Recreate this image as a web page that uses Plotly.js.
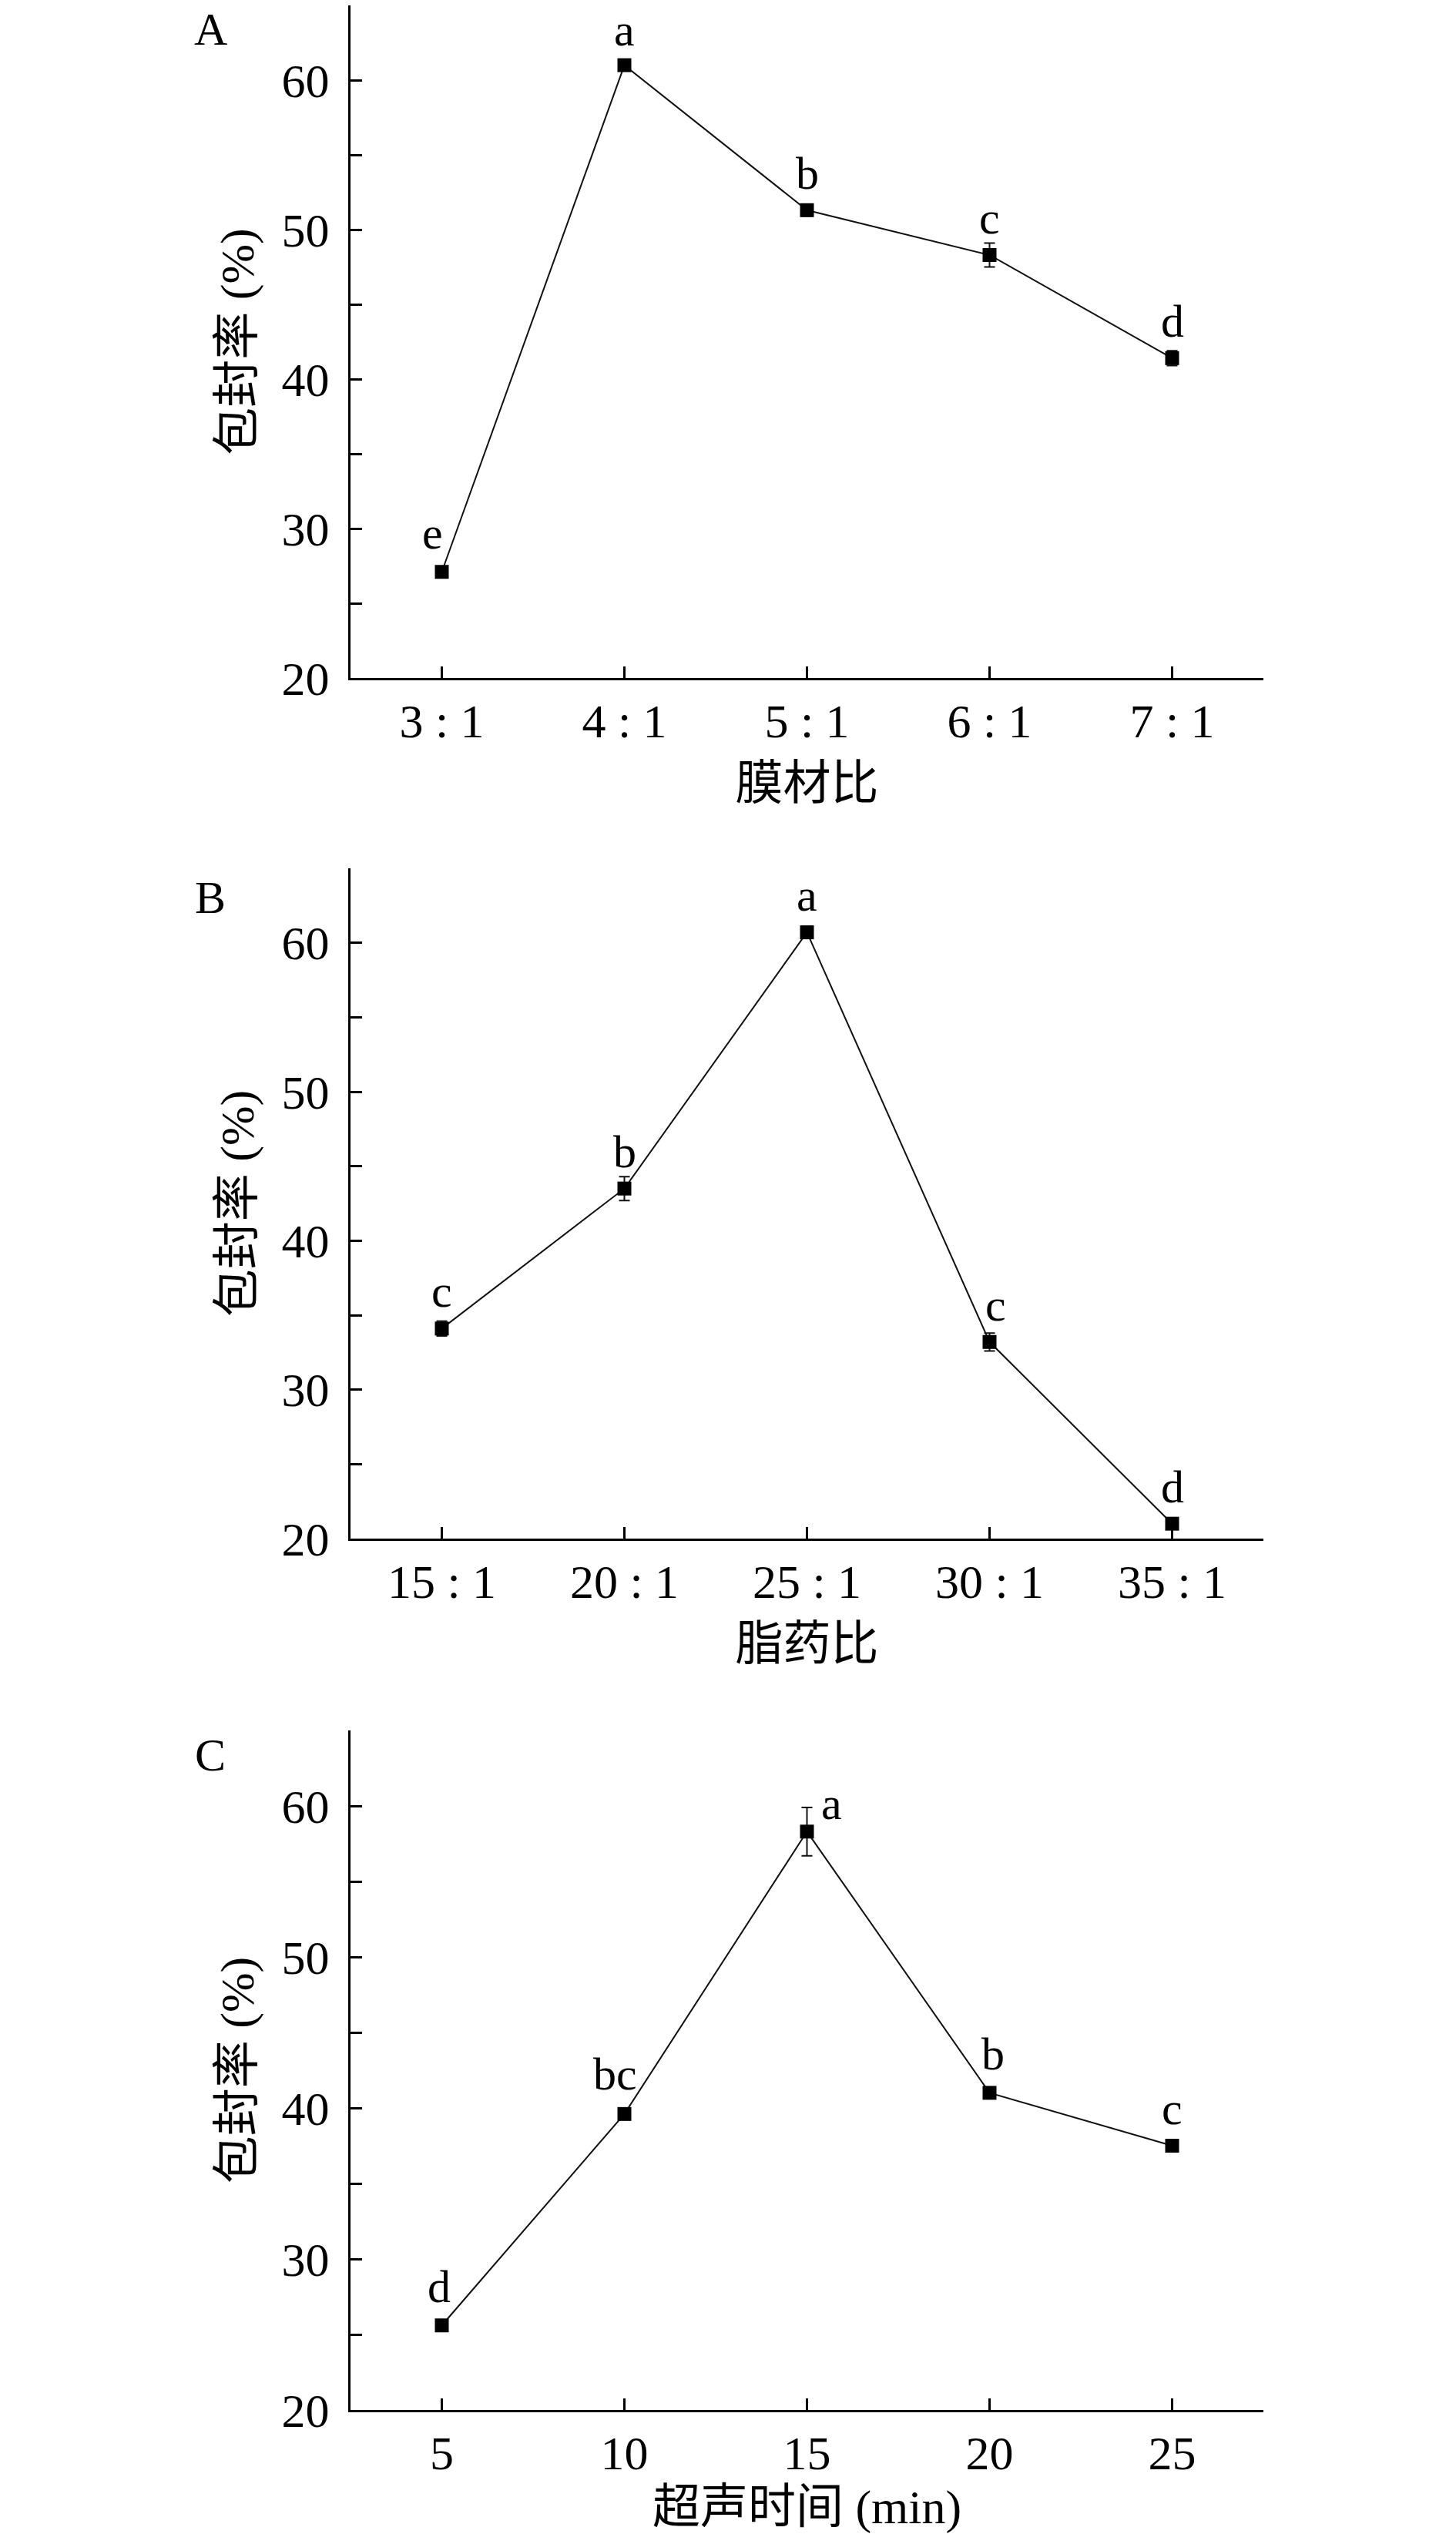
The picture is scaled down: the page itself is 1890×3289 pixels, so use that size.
<!DOCTYPE html>
<html>
<head>
<meta charset="utf-8">
<script src="https://cdn.plot.ly/plotly-3.0.1.min.js"></script>
<style>html,body{margin:0;padding:0;background:#fff;}#chart{width:1890px;height:3289px;}</style>
</head>
<body>
<div id="chart"></div>
<script>
// ---- data ----
const catsA = ["3 : 1", "4 : 1", "5 : 1", "6 : 1", "7 : 1"];
const valsA = [27.1, 61.0, 51.3, 48.3, 41.4];
const errA  = [0.3, 0.3, 0.4, 0.8, 0.5];
const lettersA = ["e", "a", "b", "c", "d"];

const catsB = ["15 : 1", "20 : 1", "25 : 1", "30 : 1", "35 : 1"];
const valsB = [34.1, 43.5, 60.7, 33.2, 21.0];
const errB  = [0.5, 0.8, 0.4, 0.6, 0.3];
const lettersB = ["c", "b", "a", "c", "d"];

const timeC = [5, 10, 15, 20, 25];
const valsC = [25.6, 39.6, 58.3, 41.0, 37.5];
const errC  = [0.3, 0.3, 1.6, 0.3, 0.3];
const lettersC = ["d", "bc", "a", "b", "c"];

const yTickVals = [20, 25, 30, 35, 40, 45, 50, 55, 60, 65];
const yTickText = ["20", "", "30", "", "40", "", "50", "", "60", ""];

const xTitleA = "膜材比";
const xTitleB = "脂药比";
const xTitleC = "超声时间 (min)";
const yTitle = "包封率 (%)";

// ---- styling ----
const serif = "Liberation Serif, Times New Roman, serif";
const cjk = "Liberation Serif, Noto Sans CJK SC, serif";
const W = 1890, H = 3289;
const xDom = [455 / W, 1640 / W];
const yDomA = [1 - 880 / H, 1 - 7 / H];
const yDomB = [1 - 1997 / H, 1 - 1127 / H];
const yDomC = [1 - 3128 / H, 1 - 2246 / H];

function trace(x, y, err, xa, ya) {
  return {
    x: x, y: y, xaxis: xa, yaxis: ya, type: "scatter", mode: "lines+markers",
    line: {color: "#111", width: 2},
    marker: {symbol: "square", size: 18, color: "#000"},
    error_y: {type: "data", array: err, visible: true, color: "#111", thickness: 2, width: 7},
    showlegend: false, cliponaxis: false
  };
}

function yAxis(dom, anchor) {
  return {
    domain: dom, anchor: anchor, range: [20, 65], tickmode: "array",
    tickvals: yTickVals, ticktext: yTickText, ticks: "inside", ticklen: 15, tickwidth: 3,
    tickcolor: "#000", showline: true, linewidth: 3, linecolor: "#000", showgrid: false,
    zeroline: false, tickfont: {family: serif, size: 62, color: "#000"}, ticklabelstandoff: 12,
    title: {text: yTitle, font: {family: cjk, size: 62, color: "#000"}, standoff: 16}
  };
}

function xAxis(anchor, title, extra) {
  return Object.assign({
    domain: xDom, anchor: anchor, ticks: "inside", ticklen: 15, tickwidth: 3,
    tickcolor: "#000", showline: true, linewidth: 3, linecolor: "#000", showgrid: false,
    zeroline: false, tickfont: {family: serif, size: 62, color: "#000"}, ticklabelstandoff: 0,
    title: {text: title, font: {family: cjk, size: 62, color: "#000"}, standoff: 26}
  }, extra);
}

function letterAnns(x, y, letters, xref, yref, shifts) {
  return letters.map((t, i) => ({
    x: x[i], y: y[i], xref: xref, yref: yref, text: t, showarrow: false,
    font: {family: serif, size: 60, color: "#000"},
    xshift: shifts[i][0], yshift: shifts[i][1], xanchor: "center", yanchor: "middle"
  }));
}

const data = [
  trace(catsA, valsA, errA, "x", "y"),
  trace(catsB, valsB, errB, "x2", "y2"),
  trace(timeC, valsC, errC, "x3", "y3")
];

const annotations = []
  .concat(letterAnns(catsA, valsA, lettersA, "x", "y",
    [[-12, 50], [0, 46], [0, 48], [0, 48], [0, 48]]))
  .concat(letterAnns(catsB, valsB, lettersB, "x2", "y2",
    [[0, 48], [0, 48], [0, 48], [8, 48], [0, 48]]))
  .concat(letterAnns(timeC, valsC, lettersC, "x3", "y3",
    [[-4, 50], [-12, 52], [32, 36], [4, 50], [0, 48]]))
  .concat([
    {text: "A", x: 273 / W, y: 1 - 38 / H},
    {text: "B", x: 273 / W, y: 1 - 1165 / H},
    {text: "C", x: 273 / W, y: 1 - 2278 / H}
  ].map(a => Object.assign(a, {xref: "paper", yref: "paper", showarrow: false,
    xanchor: "center", yanchor: "middle", font: {family: serif, size: 60, color: "#000"}})));

const layout = {
  width: W, height: H, margin: {l: 0, r: 0, t: 0, b: 0},
  paper_bgcolor: "#fff", plot_bgcolor: "#fff",
  xaxis: xAxis("y", xTitleA, {type: "category", range: [-0.5, 4.5]}),
  yaxis: yAxis(yDomA, "x"),
  xaxis2: xAxis("y2", xTitleB, {type: "category", range: [-0.5, 4.5]}),
  yaxis2: yAxis(yDomB, "x2"),
  xaxis3: xAxis("y3", xTitleC, {type: "linear", range: [2.5, 27.5], tickvals: timeC}),
  yaxis3: yAxis(yDomC, "x3"),
  annotations: annotations
};

Plotly.newPlot("chart", data, layout, {staticPlot: true, displayModeBar: false});
</script>
</body>
</html>
